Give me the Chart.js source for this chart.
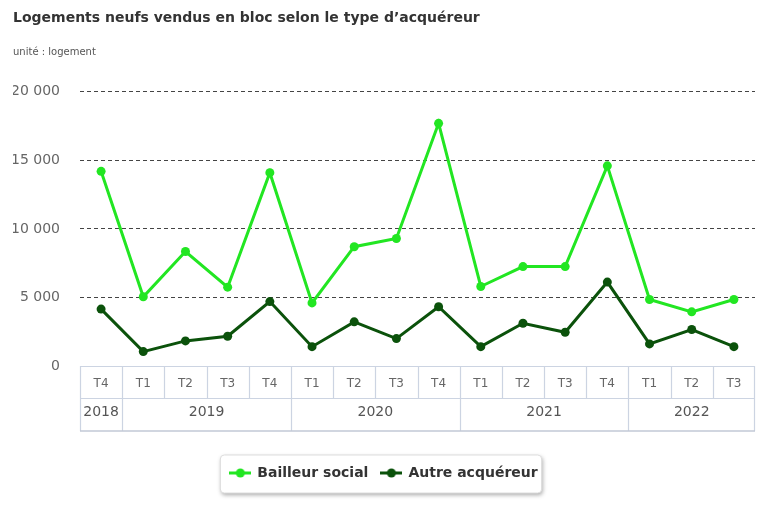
<!DOCTYPE html>
<html><head><meta charset="utf-8">
<script src="https://cdn.jsdelivr.net/npm/chart.js@4"></script>
<style>html,body{margin:0;padding:0;background:#fff}#wrap{width:768px;height:512px}</style>
</head><body><div id="wrap"><canvas id="c" width="768" height="512"></canvas></div>
<script>
const titleText = 'Logements neufs vendus en bloc selon le type d\u2019acquéreur';
const subtitleText = 'unité : logement';
const quarters = ['T4','T1','T2','T3','T4','T1','T2','T3','T4','T1','T2','T3','T4','T1','T2','T3'];
const years = ['2018','2019','2020','2021','2022'];
const quartersPerYear = [1,4,4,4,3];
const seriesNames = ['Bailleur social','Autre acquéreur'];
const bailleurSocial = [14200,5050,8350,5750,14100,4600,8700,9300,17700,5800,7250,7250,14600,4850,3950,4850];
const autreAcquereur = [4150,1050,1830,2170,4700,1410,3220,2000,4320,1410,3120,2460,6120,1610,2660,1410];
const yTicks = [0,5000,10000,15000,20000];

const LIGHT = '#22e622', DARK = '#0b520b', BORDER = '#ccd4e2';
const FONT = '"DejaVu Sans", Verdana, sans-serif';
const ROW = 33;

const groupStarts = []; let acc = 0;
quartersPerYear.forEach(n => { groupStarts.push(acc); acc += n; });
const groupCenters = quartersPerYear.map((n, i) => groupStarts[i] + (n - 1) / 2);

function fmt(v){ return String(v).replace(/\B(?=(\d{3})+(?!\d))/g, ' '); }

function markerCanvas(color){
  const c = document.createElement('canvas'); c.width = 22; c.height = 10;
  const g = c.getContext('2d');
  g.strokeStyle = color; g.lineWidth = 3;
  g.beginPath(); g.moveTo(0,5); g.lineTo(22,5); g.stroke();
  g.fillStyle = color; g.beginPath(); g.arc(11,5,4.5,0,Math.PI*2); g.fill();
  return c;
}
const markers = [markerCanvas(LIGHT), markerCanvas(DARK)];

const tablePlugin = {
  id: 'table',
  afterDraw(chart){
    const ctx = chart.ctx, x = chart.scales.x, ca = chart.chartArea;
    const top = ca.bottom, mid = x.bottom, bot = x.bottom + ROW;
    const half = (x.getPixelForValue(1) - x.getPixelForValue(0)) / 2;
    ctx.save();
    ctx.strokeStyle = BORDER; ctx.lineWidth = 1.2;
    ctx.beginPath();
    [top, mid].forEach(y => { ctx.moveTo(ca.left, y + .5); ctx.lineTo(ca.right, y + .5); });
    ctx.moveTo(ca.left + .5, top); ctx.lineTo(ca.left + .5, bot);
    ctx.moveTo(ca.right - .5, top); ctx.lineTo(ca.right - .5, bot);
    for (let i = 1; i < quarters.length; i++) {
      const px = Math.round(x.getPixelForValue(i) - half) + .5;
      ctx.moveTo(px, top); ctx.lineTo(px, mid);
    }
    for (let j = 1; j < groupStarts.length; j++) {
      const px = Math.round(x.getPixelForValue(groupStarts[j]) - half) + .5;
      ctx.moveTo(px, mid); ctx.lineTo(px, bot);
    }
    ctx.stroke();
    ctx.strokeStyle = '#c2c9d6'; ctx.lineWidth = 1.6;
    ctx.beginPath(); ctx.moveTo(ca.left, bot); ctx.lineTo(ca.right, bot); ctx.stroke();
    ctx.restore();
  }
};

const legendBoxPlugin = {
  id: 'legendBox',
  beforeDraw(chart){
    const hb = chart.legend && chart.legend.legendHitBoxes;
    if (!hb || !hb.length) return;
    const l = Math.min(...hb.map(b => b.left)) - 10, r = Math.max(...hb.map(b => b.left + b.width)) + 4;
    const cy = hb[0].top + hb[0].height / 2;
    const t = cy - 18, b = cy + 20;
    const ctx = chart.ctx;
    ctx.save();
    ctx.shadowColor = 'rgba(0,0,0,0.35)'; ctx.shadowBlur = 4; ctx.shadowOffsetX = 1; ctx.shadowOffsetY = 2;
    ctx.fillStyle = '#fff';
    ctx.beginPath(); ctx.roundRect(l, t, r - l, b - t, 4); ctx.fill();
    ctx.shadowColor = 'transparent';
    ctx.strokeStyle = '#ddd'; ctx.lineWidth = 1; ctx.stroke();
    ctx.restore();
  }
};

new Chart(document.getElementById('c'), {
  type: 'line',
  data: {
    labels: quarters,
    datasets: [
      { label: seriesNames[0], data: bailleurSocial, borderColor: LIGHT, backgroundColor: LIGHT, borderWidth: 3,
        pointRadius: 4.5, pointBackgroundColor: LIGHT, pointBorderWidth: 0, tension: 0 },
      { label: seriesNames[1], data: autreAcquereur, borderColor: DARK, backgroundColor: DARK, borderWidth: 3,
        pointRadius: 4.5, pointBackgroundColor: DARK, pointBorderWidth: 0, tension: 0 }
    ]
  },
  options: {
    responsive: false, animation: false, devicePixelRatio: 1,
    layout: { padding: { left: 13, right: 13, top: 8, bottom: 22 } },
    plugins: {
      title: { display: true, text: titleText, align: 'start', color: '#333',
        font: { family: FONT, size: 14, weight: 'bold' }, padding: { top: 2, bottom: 20 } },
      subtitle: { display: true, text: subtitleText, align: 'start', color: '#555',
        font: { family: FONT, size: 10 }, padding: { top: 0, bottom: 33 } },
      legend: { position: 'bottom',
        labels: { color: '#333', font: { family: FONT, size: 14, weight: 'bold' }, usePointStyle: true,
          pointStyleWidth: 20, boxHeight: 10, padding: 13,
          generateLabels(chart){
            return chart.data.datasets.map((d, i) => ({ text: d.label, pointStyle: markers[i], fillStyle: d.borderColor,
              strokeStyle: d.borderColor, lineWidth: 0, fontColor: '#333', datasetIndex: i, hidden: false }));
          } } },
      tooltip: { enabled: false }
    },
    scales: {
      y: { min: 0, max: 20000,
        afterBuildTicks(s){ s.ticks = yTicks.map(v => ({ value: v })); },
        afterFit(s){ s.width = 67; },
        ticks: { color: '#666', font: { family: FONT, size: 14 }, padding: 20, callback: v => fmt(v) },
        grid: { drawTicks: false, color: c => c.tick.value === 0 ? 'rgba(0,0,0,0)' : '#444', lineWidth: 1 },
        border: { display: false, dash: [4, 3] } },
      x: { position: 'bottom', weight: 0, offset: true,
        afterFit(s){ s.height = 32; },
        ticks: { color: '#666', font: { family: FONT, size: 12 }, maxRotation: 0, autoSkip: false, padding: 11 },
        grid: { display: false, drawTicks: false }, border: { display: false } },
      x2: { type: 'linear', position: 'bottom', weight: 1, min: -0.5, max: quarters.length - 0.5,
        afterBuildTicks(s){ s.ticks = groupCenters.map(v => ({ value: v })); },
        afterFit(s){ s.height = 55; },
        ticks: { color: '#555', font: { family: FONT, size: 14 }, padding: 6,
          callback: (v) => { const i = groupCenters.indexOf(v); return i >= 0 ? years[i] : ''; } },
        grid: { display: false, drawTicks: false }, border: { display: false } }
    }
  },
  plugins: [legendBoxPlugin, tablePlugin]
});
</script></body></html>
